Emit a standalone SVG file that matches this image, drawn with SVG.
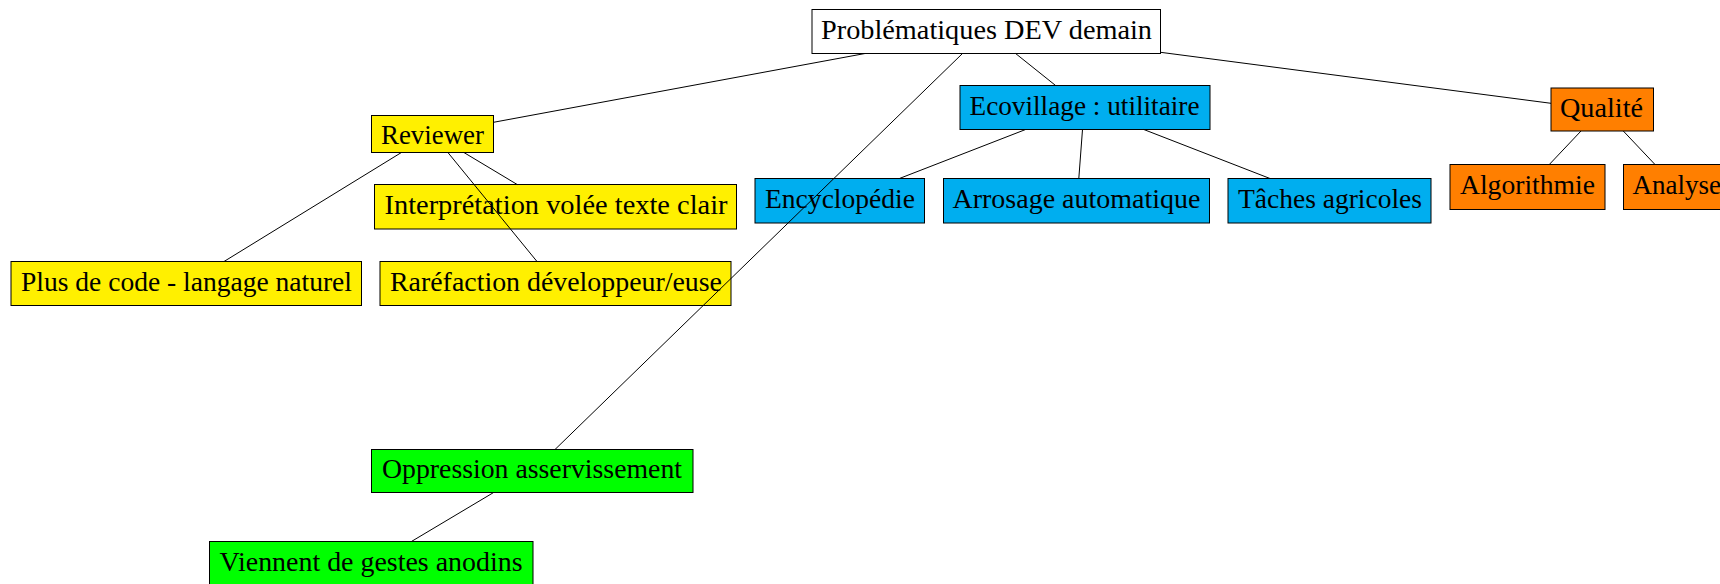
<svg xmlns="http://www.w3.org/2000/svg" width="1720" height="584" viewBox="0 0 1720 584">
<style>
  .n rect { stroke: #000; stroke-width: 1; }
  .w { fill: #ffffff; }
  .y { fill: #fff000; }
  .b { fill: #00aeef; }
  .o { fill: #ff7f00; }
  .g { fill: #00ff00; }
  text { font-family: "Liberation Serif", "DejaVu Serif", serif; font-size: 27px; fill: #000; text-anchor: middle; }
  #connectors line { stroke: #000; stroke-width: 1; }
</style>
<rect x="0" y="0" width="1720" height="584" fill="#ffffff"/>
<g id="nodes">
  <g id="root" class="n"><rect class="w" x="812" y="9.5" width="348.5" height="44"/><text x="986.5" y="38.5" textLength="331" lengthAdjust="spacingAndGlyphs">Problématiques DEV demain</text></g>
  <g id="reviewer" class="n"><rect class="y" x="371.5" y="115.5" width="122" height="37"/><text x="432.5" y="143.5" textLength="103" lengthAdjust="spacingAndGlyphs">Reviewer</text></g>
  <g id="interpretation" class="n"><rect class="y" x="374.5" y="184.5" width="362" height="44.5"/><text x="556" y="213.5" textLength="343" lengthAdjust="spacingAndGlyphs">Interprétation volée texte clair</text></g>
  <g id="plus-de-code" class="n"><rect class="y" x="11" y="261.5" width="350.5" height="44"/><text x="186.5" y="290.5" textLength="331" lengthAdjust="spacingAndGlyphs">Plus de code - langage naturel</text></g>
  <g id="rarefaction" class="n"><rect class="y" x="380" y="261.5" width="351" height="44"/><text x="556" y="290.5" textLength="332" lengthAdjust="spacingAndGlyphs">Raréfaction développeur/euse</text></g>
  <g id="ecovillage" class="n"><rect class="b" x="960" y="85.5" width="250" height="44"/><text x="1084.5" y="115" textLength="230" lengthAdjust="spacingAndGlyphs">Ecovillage : utilitaire</text></g>
  <g id="encyclopedie" class="n"><rect class="b" x="755" y="178.5" width="169.5" height="44.5"/><text x="840" y="207.5" textLength="150" lengthAdjust="spacingAndGlyphs">Encyclopédie</text></g>
  <g id="arrosage" class="n"><rect class="b" x="943.5" y="178.5" width="266" height="44.5"/><text x="1076.5" y="207.5" textLength="248" lengthAdjust="spacingAndGlyphs">Arrosage automatique</text></g>
  <g id="taches" class="n"><rect class="b" x="1228" y="178.5" width="203" height="44.5"/><text x="1330" y="207.5" textLength="184" lengthAdjust="spacingAndGlyphs">Tâches agricoles</text></g>
  <g id="qualite" class="n"><rect class="o" x="1551" y="88" width="102.5" height="43"/><text x="1601.5" y="117" textLength="83" lengthAdjust="spacingAndGlyphs">Qualité</text></g>
  <g id="algorithmie" class="n"><rect class="o" x="1450" y="164.5" width="155" height="45"/><text x="1527.5" y="194" textLength="135" lengthAdjust="spacingAndGlyphs">Algorithmie</text></g>
  <g id="analyse" class="n"><rect class="o" x="1623.5" y="164.5" width="120" height="45"/><text x="1632.5" y="194" style="text-anchor:start">Analyse</text></g>
  <g id="oppression" class="n"><rect class="g" x="371.5" y="449.5" width="321.5" height="43"/><text x="532" y="478" textLength="300" lengthAdjust="spacingAndGlyphs">Oppression asservissement</text></g>
  <g id="viennent" class="n"><rect class="g" x="209.5" y="541.5" width="323.5" height="46"/><text x="371" y="570.5" textLength="303" lengthAdjust="spacingAndGlyphs">Viennent de gestes anodins</text></g>
</g>
<g id="connectors">
  <line x1="865" y1="53.5" x2="493.5" y2="122.3"/>
  <line x1="962.5" y1="53.5" x2="555" y2="449.5"/>
  <line x1="1015.6" y1="53.5" x2="1055.6" y2="85.5"/>
  <line x1="1160.5" y1="52.3" x2="1551" y2="103.3"/>
  <line x1="401.4" y1="152.5" x2="224" y2="261.5"/>
  <line x1="447.9" y1="152.5" x2="537" y2="261.5"/>
  <line x1="463.9" y1="152.5" x2="517.2" y2="184.5"/>
  <line x1="1025.6" y1="129.5" x2="899.4" y2="178.5"/>
  <line x1="1082.5" y1="129.5" x2="1078.8" y2="178.5"/>
  <line x1="1143.8" y1="129.5" x2="1270" y2="178.5"/>
  <line x1="1581" y1="131" x2="1549.3" y2="164.5"/>
  <line x1="1623.3" y1="131" x2="1655" y2="164.5"/>
  <line x1="493.6" y1="492.5" x2="411.4" y2="541.5"/>
</g>
</svg>
